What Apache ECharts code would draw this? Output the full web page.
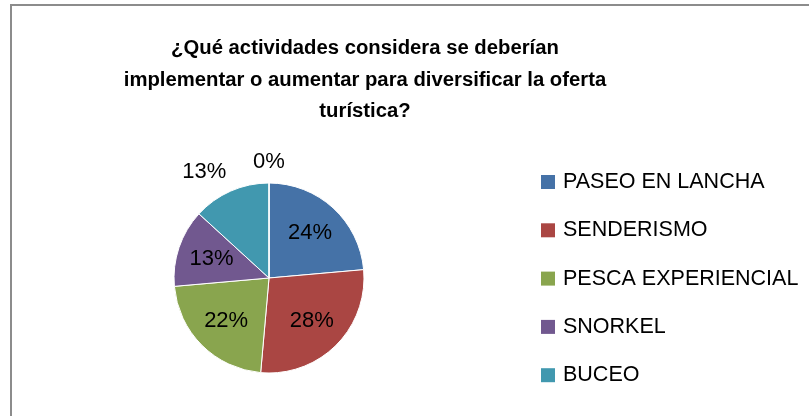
<!DOCTYPE html>
<html>
<head>
<meta charset="utf-8">
<script src="https://cdn.jsdelivr.net/npm/echarts@6/dist/echarts.min.js"></script>
<style>
html,body{margin:0;padding:0;background:#fff;overflow:hidden;}
#wrap{position:relative;width:809px;height:416px;overflow:hidden;}
#frame{position:absolute;left:10px;top:4px;width:900px;height:500px;border:2px solid #8c8c8c;box-sizing:border-box;}
#chart{position:absolute;left:0;top:0;width:809px;height:416px;}
</style>
</head>
<body>
<div id="wrap"><div id="frame"></div><div id="chart"></div></div>
<script>
const titleText = '¿Qué actividades considera se deberían\nimplementar o aumentar para diversificar la oferta\nturística?';
const categories = ['PASEO EN LANCHA', 'SENDERISMO', 'PESCA EXPERIENCIAL', 'SNORKEL', 'BUCEO', ''];
const values = [23.6, 27.8, 22.2, 13.2, 13.2, 0];
const colors = ['#4572A7', '#AA4643', '#89A54E', '#71588F', '#4198AF', '#DB843D'];
const insideLabel = [true, true, true, true, false, false];

const CENTER = [269, 278];
const RADIUS = 95;
const FONT = '"Liberation Sans", Arial, sans-serif';

const chart = echarts.init(document.getElementById('chart'), null, {renderer: 'canvas'});
const data = categories.map((c, i) => ({
  name: c,
  value: values[i],
  itemStyle: {color: colors[i]},
  label: insideLabel[i] ? {position: 'inside'} : {position: 'outside', distanceToLabelLine: values[i] === 0 ? 0 : -4},
  labelLine: {show: false, length: 21, length2: 0}
}));

chart.setOption({
  animation: false,
  title: {
    text: titleText,
    left: 365,
    textAlign: 'center',
    top: 33,
    padding: 0,
    textStyle: {fontFamily: FONT, fontWeight: 'bold', fontSize: 20.3, lineHeight: 31.5, color: '#000'}
  },
  legend: {
    data: categories.filter(c => c !== ''),
    orient: 'vertical',
    left: 541,
    top: 170,
    padding: 0,
    itemWidth: 14,
    itemHeight: 14,
    itemGap: 24.3,
    icon: 'rect',
    itemStyle: {borderWidth: 0},
    textStyle: {fontFamily: FONT, fontSize: 21.5, lineHeight: 24, color: '#000', padding: [0, 0, 0, 3]}
  },
  series: [{
    type: 'pie',
    center: CENTER,
    radius: RADIUS,
    startAngle: 90,
    clockwise: true,
    avoidLabelOverlap: false,
    minShowLabelAngle: 0,
    itemStyle: {borderColor: '#fff', borderWidth: 1},
    label: {
      show: true,
      fontFamily: FONT,
      fontSize: 22,
      color: '#000',
      distanceToLabelLine: 0,
      formatter: p => Math.round(p.value) + '%'
    },
    labelLine: {show: false},
    labelLayout: function (p) {
      const lr = p.labelRect;
      const lx = lr.x + lr.width / 2, ly = lr.y + lr.height / 2;
      if (insideLabel[p.dataIndex]) {
        return {dx: (lx - CENTER[0]) * 0.2, dy: (ly - CENTER[1]) * 0.2};
      }
      if (values[p.dataIndex] === 0) {
        return {dx: (p.rect.x + p.rect.width / 2) - lx};
      }
      return {};
    },
    emphasis: {disabled: true},
    data: data
  }]
});
</script>
</body>
</html>
